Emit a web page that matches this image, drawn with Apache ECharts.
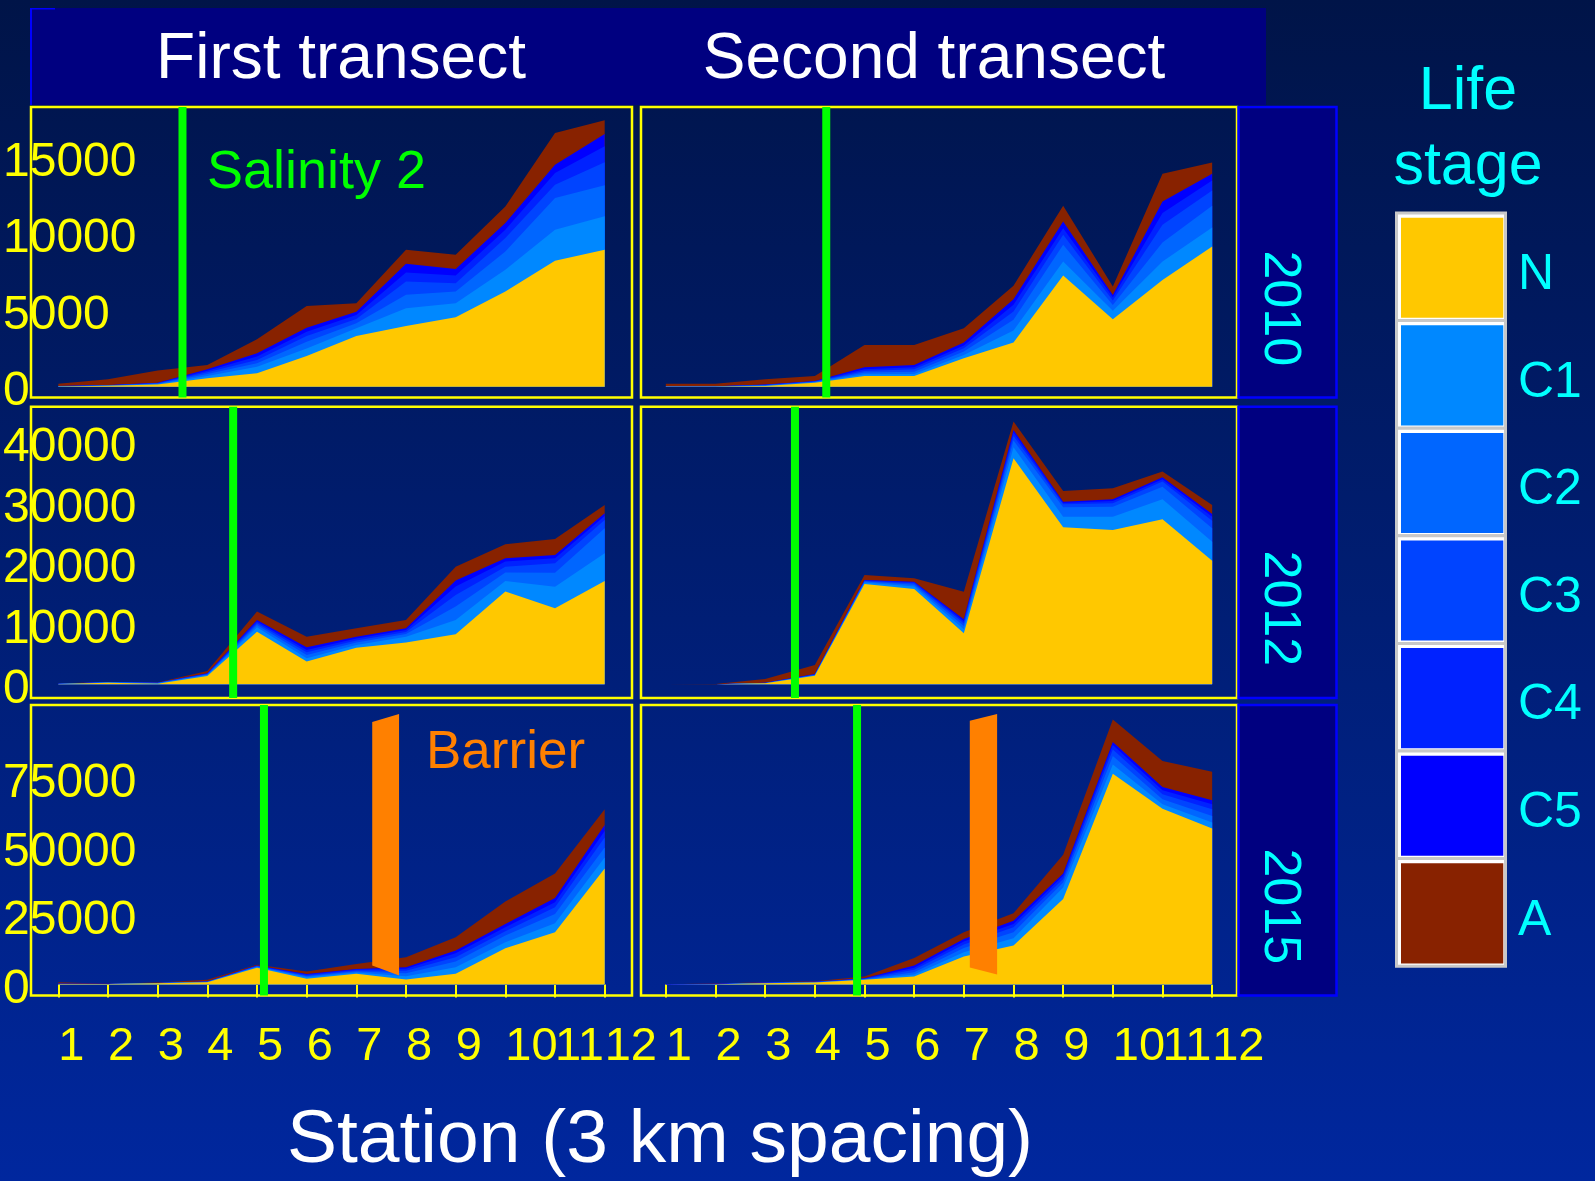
<!DOCTYPE html>
<html>
<head>
<meta charset="utf-8">
<script src="https://cdn.jsdelivr.net/npm/echarts@6/dist/echarts.min.js"></script>
<style>
html,body{margin:0;padding:0;}
body{background:linear-gradient(to bottom,#001448 0%,#00279e 100%);}
#chart{width:1595px;height:1181px;}
</style>
</head>
<body>
<div id="chart"></div>
<script>
// ---------------- data ----------------
const stations = [1,2,3,4,5,6,7,8,9,10,11,12];
const stages = ['N','C1','C2','C3','C4','C5','A'];
const years = ['2010','2012','2015'];
const transects = ['First transect','Second transect'];
const yTicks2010 = [0,5000,10000,15000];
const yTicks2012 = [0,10000,20000,30000,40000];
const yTicks2015 = [0,25000,50000,75000];

// First transect 2010
const T1_2010_N  = [20,60,150,545,870,2000,3310,3970,4530,6210,8220,8940];
const T1_2010_C1 = [5,10,30,150,435,500,500,1155,915,1420,2025,2180];
const T1_2010_C2 = [5,10,25,130,220,435,325,870,765,1200,2070,2025];
const T1_2010_C3 = [5,10,20,120,220,370,285,870,545,870,870,1505];
const T1_2010_C4 = [5,10,20,100,220,285,260,590,500,545,765,1045];
const T1_2010_C5 = [5,10,15,90,220,260,220,565,435,435,545,805];
const T1_2010_A  = [150,370,790,280,915,1420,545,915,920,1090,2070,895];
// Second transect 2010
const T2_2010_N  = [10,10,40,260,700,700,1850,2880,7260,4400,6970,9150];
const T2_2010_C1 = [5,5,30,30,110,130,220,785,915,565,1200,1240];
const T2_2010_C2 = [5,5,25,25,110,150,220,700,1090,370,1240,1415];
const T2_2010_C3 = [5,5,20,20,110,155,220,545,650,285,1155,1000];
const T2_2010_C4 = [5,5,20,20,110,130,175,435,435,220,765,655];
const T2_2010_C5 = [5,5,15,15,130,150,195,370,435,150,760,435];
const T2_2010_A  = [150,150,330,330,1460,1310,940,870,1025,545,1810,740];
// First transect 2012
const T1_2012_N  = [50,250,100,1380,8700,3750,6060,6890,8270,15320,12560,17080];
const T1_2012_C1 = [20,60,80,150,720,550,440,990,2370,1760,3580,4570];
const T1_2012_C2 = [10,20,40,100,390,550,390,440,2200,1380,2310,4130];
const T1_2012_C3 = [10,10,20,80,275,440,330,330,1930,990,1540,1380];
const T1_2012_C4 = [5,10,10,60,275,385,330,330,1380,830,830,660];
const T1_2012_C5 = [5,10,10,50,275,440,330,275,990,550,550,440];
const T1_2012_A  = [20,30,20,390,1380,1760,1380,1380,2310,2310,2650,1380];
// Second transect 2012
const T2_2012_N  = [5,10,165,1430,16590,15760,8430,37360,25950,25510,27280,20440];
const T2_2012_C1 = [0,0,20,55,220,385,660,1820,1760,2200,3300,3140];
const T2_2012_C2 = [0,0,20,55,165,330,550,1100,1540,1650,2090,2200];
const T2_2012_C3 = [0,0,20,55,110,220,440,770,500,550,830,1270];
const T2_2012_C4 = [0,0,20,55,110,165,330,550,220,390,390,660];
const T2_2012_C5 = [5,5,20,55,55,110,330,440,220,275,330,440];
const T2_2012_A  = [15,40,615,1490,830,550,4570,1380,1760,1820,940,1490];
// First transect 2015
const T1_2015_N  = [200,150,480,850,6040,2050,3870,1810,3870,13170,18970,42160];
const T1_2015_C1 = [10,30,20,80,300,600,480,1210,2420,2170,3260,3990];
const T1_2015_C2 = [10,20,20,60,200,360,360,1090,2050,2420,3380,3620];
const T1_2015_C3 = [10,10,20,50,150,240,360,850,1570,1570,2420,3620];
const T1_2015_C4 = [10,10,20,40,100,360,360,720,1450,1450,1810,2420];
const T1_2015_C5 = [10,10,20,30,100,240,240,600,970,1210,1570,2170];
const T1_2015_A  = [600,30,150,580,250,850,1810,3620,4830,8210,8940,5680];
// Second transect 2015
const T2_2015_N  = [20,50,480,720,1690,2900,10150,14130,31050,76590,63900,56660];
const T2_2015_C1 = [10,30,40,60,120,720,1570,2660,4230,3380,1570,2170];
const T2_2015_C2 = [10,30,40,60,120,850,1570,2180,1810,3020,1810,2420];
const T2_2015_C3 = [10,40,40,60,120,850,1210,1810,1210,2420,1810,2420];
const T2_2015_C4 = [10,50,40,60,120,720,1090,1210,1210,1570,1450,1810];
const T2_2015_C5 = [20,60,40,60,120,850,970,1210,850,1090,1210,1450];
const T2_2015_A  = [20,100,120,190,600,2780,2420,2660,6770,8210,9420,10390];

// Salinity-2 positions (station units), per year: [first, second]
const salinity2010 = [3.5, 4.23];
const salinity2012 = [4.52, 3.6];
const salinity2015 = [5.14, 4.85];
// Barrier (2015): [xLeft, yTopLeft, yBottomLeft, xRight, yTopRight, yBottomRight]
const barrierFirst  = [7.32, 95340, 6910, 7.86, 98250, 3280];
const barrierSecond = [7.12, 95820, 6190, 7.67, 98250, 3640];

// ---------------- styling / layout ----------------
const FONT = '"Liberation Sans", Arial, Helvetica, sans-serif';
const stageColors = ['#FFC800','#0088FF','#0066FF','#0044FF','#0022FF','#0000FF','#882200'];
const gridLeft = [31, 641], gridWidth = [601, 596];
const gridTop = [107, 406.7, 705], gridHeight = [290.5, 291.3, 290.5];
const xLim = [[0.45, 12.55], [0.5, 12.5]];
const yLim = [[-705, 18257], [-2264, 45884], [-4000, 101560]];

const panelData = [
  [T1_2010_N,T1_2010_C1,T1_2010_C2,T1_2010_C3,T1_2010_C4,T1_2010_C5,T1_2010_A],
  [T2_2010_N,T2_2010_C1,T2_2010_C2,T2_2010_C3,T2_2010_C4,T2_2010_C5,T2_2010_A],
  [T1_2012_N,T1_2012_C1,T1_2012_C2,T1_2012_C3,T1_2012_C4,T1_2012_C5,T1_2012_A],
  [T2_2012_N,T2_2012_C1,T2_2012_C2,T2_2012_C3,T2_2012_C4,T2_2012_C5,T2_2012_A],
  [T1_2015_N,T1_2015_C1,T1_2015_C2,T1_2015_C3,T1_2015_C4,T1_2015_C5,T1_2015_A],
  [T2_2015_N,T2_2015_C1,T2_2015_C2,T2_2015_C3,T2_2015_C4,T2_2015_C5,T2_2015_A]
];
const yTicks = [yTicks2010, yTicks2012, yTicks2015];
const salinity = [salinity2010, salinity2012, salinity2015];

const grids = [], xAxes = [], yAxes = [], series = [];
for (let p = 0; p < 6; p++) {
  const row = Math.floor(p / 2), col = p % 2;
  grids.push({left: gridLeft[col], top: gridTop[row], width: gridWidth[col], height: gridHeight[row],
    show: true, borderColor: '#FFFF00', borderWidth: 2.5, backgroundColor: 'transparent', containLabel: false});
  xAxes.push({gridIndex: p, type: 'value', min: xLim[col][0], max: xLim[col][1],
    axisLine: {show: false}, splitLine: {show: false},
    axisTick: {show: row === 2, customValues: stations, length: 13, lineStyle: {color: '#FFFF00', width: 2}},
    axisLabel: {show: row === 2, customValues: stations, color: '#FFFF00', fontSize: 47, fontFamily: FONT,
      align: 'left', margin: 28, formatter: v => String(v)}});
  yAxes.push({gridIndex: p, type: 'value', min: yLim[row][0], max: yLim[row][1],
    axisLine: {show: false}, splitLine: {show: false}, axisTick: {show: false},
    axisLabel: {show: col === 0, customValues: yTicks[row], color: '#FFFF00', fontSize: 48, fontFamily: FONT,
      align: 'left', verticalAlign: 'top', lineHeight: 11, margin: 28, formatter: v => String(v)}});

  // cumulative stacks (N at bottom ... A on top)
  const cum = [];
  let run = stations.map(() => 0);
  panelData[p].forEach(arr => { run = run.map((v, j) => v + arr[j]); cum.push(run.slice()); });
  for (let k = stages.length - 1; k >= 0; k--) {
    series.push({type: 'line', name: stages[k], xAxisIndex: p, yAxisIndex: p,
      data: stations.map((s, j) => [s, cum[k][j]]),
      symbol: 'none', showSymbol: false, lineStyle: {width: 0},
      areaStyle: {color: stageColors[k], opacity: 1, origin: 'auto'},
      z: 2, silent: true, animation: false});
  }
  // salinity line
  series.push({type: 'custom', xAxisIndex: p, yAxisIndex: p, z: 5, silent: true, animation: false,
    data: [[salinity[row][col], 0]],
    renderItem: function (params, api) {
      const x = api.coord([api.value(0), 0])[0];
      const cs = params.coordSys;
      return {type: 'rect', shape: {x: x - 4, y: cs.y, width: 8, height: cs.height}, style: {fill: '#00FF00'}};
    }});
  if (row === 2) {
    const b = col === 0 ? barrierFirst : barrierSecond;
    series.push({type: 'custom', xAxisIndex: p, yAxisIndex: p, z: 6, silent: true, animation: false,
      data: [b],
      renderItem: function (params, api) {
        const p1 = api.coord([api.value(0), api.value(1)]);
        const p2 = api.coord([api.value(3), api.value(4)]);
        const p3 = api.coord([api.value(3), api.value(5)]);
        const p4 = api.coord([api.value(0), api.value(2)]);
        return {type: 'polygon', shape: {points: [p1, p2, p3, p4]}, style: {fill: '#FF8000'}};
      }});
  }
}

// ---------------- graphic decorations ----------------
const graphic = [];
// top strip
graphic.push({type: 'rect', shape: {x: 30, y: 8, width: 1236, height: 97}, style: {fill: '#000080'}, z: 1});
graphic.push({type: 'rect', shape: {x: 30, y: 8, width: 2, height: 97}, style: {fill: '#0000FF'}, z: 1});
graphic.push({type: 'rect', shape: {x: 30, y: 8, width: 25, height: 1.5}, style: {fill: '#0000FF'}, z: 1});
const titleX = [341, 934];
transects.forEach((t, i) => graphic.push({type: 'text', x: titleX[i], y: 60, z: 10,
  style: {text: t, fill: '#FFFFFF', font: '64px ' + FONT, textAlign: 'center', textVerticalAlign: 'middle'}}));
// year strips
years.forEach((yr, r) => {
  graphic.push({type: 'rect', shape: {x: 1238.5, y: gridTop[r], width: 98, height: gridHeight[r]},
    style: {fill: '#000080', stroke: '#0000FF', lineWidth: 2.5}, z: 10});
  graphic.push({type: 'text', x: 1279, y: gridTop[r] + gridHeight[r] / 2 + 56, rotation: -Math.PI / 2, z: 11,
    style: {text: yr, fill: '#00FFFF', font: '52px ' + FONT, textAlign: 'center', textVerticalAlign: 'middle'}});
});
// annotations
graphic.push({type: 'text', x: 207, y: 173.5, z: 11,
  style: {text: 'Salinity 2', fill: '#00FF00', font: '54px ' + FONT, textAlign: 'left', textVerticalAlign: 'middle'}});
graphic.push({type: 'text', x: 426, y: 753.5, z: 11,
  style: {text: 'Barrier', fill: '#FF8000', font: '53px ' + FONT, textAlign: 'left', textVerticalAlign: 'middle'}});
// x axis title
graphic.push({type: 'text', x: 660, y: 1141, z: 11,
  style: {text: 'Station (3 km spacing)', fill: '#FFFFFF', font: '75px ' + FONT, textAlign: 'center', textVerticalAlign: 'middle'}});
// legend
graphic.push({type: 'text', x: 1468, y: 92, z: 11,
  style: {text: 'Life', fill: '#00FFFF', font: '61px ' + FONT, textAlign: 'center', textVerticalAlign: 'middle'}});
graphic.push({type: 'text', x: 1468, y: 167, z: 11,
  style: {text: 'stage', fill: '#00FFFF', font: '61px ' + FONT, textAlign: 'center', textVerticalAlign: 'middle'}});
const keyTop = 213, keyH = 107.6;
stages.forEach((s, i) => {
  const y0 = keyTop + i * keyH;
  graphic.push({type: 'rect', shape: {x: 1396.5, y: y0, width: 109, height: keyH},
    style: {fill: '#FFFFFF', stroke: '#C8C8C8', lineWidth: 3}, z: 10});
  graphic.push({type: 'rect', shape: {x: 1401, y: y0 + 4.7, width: 102.3, height: keyH - 7.5},
    style: {fill: stageColors[i]}, z: 11});
  graphic.push({type: 'text', x: 1518, y: y0 + keyH / 2 + 8.5, z: 11,
    style: {text: s, fill: '#00FFFF', font: '50px ' + FONT, textAlign: 'left', textVerticalAlign: 'middle'}});
});

const chart = echarts.init(document.getElementById('chart'), null, {renderer: 'canvas'});
chart.setOption({
  backgroundColor: 'transparent',
  animation: false,
  grid: grids,
  xAxis: xAxes,
  yAxis: yAxes,
  series: series,
  graphic: graphic
});
</script>
</body>
</html>
